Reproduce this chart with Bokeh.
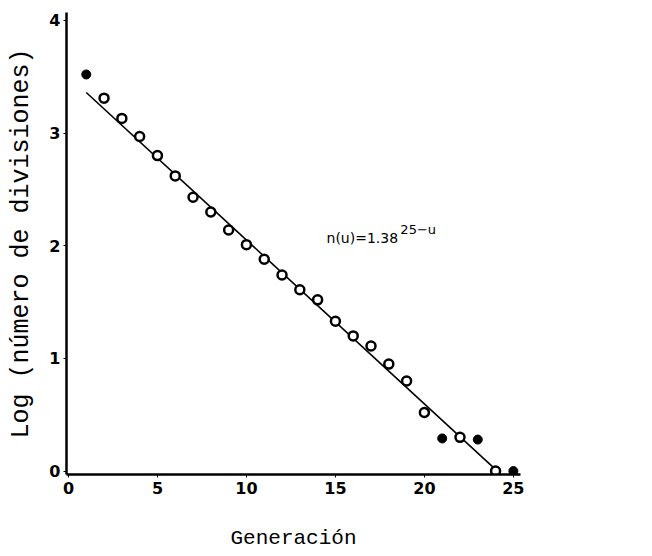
from bokeh.plotting import figure
from bokeh.models import Range1d, FixedTicker, Label
from bokeh.embed import file_html
from bokeh.resources import INLINE

generacion = [1, 2, 3, 4, 5, 6, 7, 8, 9, 10, 11, 12, 13, 14, 15, 16, 17, 18, 19, 20, 21, 22, 23, 24, 25]
log_div = [3.52, 3.31, 3.13, 2.97, 2.80, 2.62, 2.43, 2.30, 2.14, 2.01, 1.88, 1.74, 1.61, 1.52, 1.33,
           1.20, 1.11, 0.95, 0.80, 0.52, 0.29, 0.30, 0.28, 0.0, 0.0]
filled = [True, False, False, False, False, False, False, False, False, False, False, False, False,
          False, False, False, False, False, False, False, True, False, True, False, True]
fit_x = [1.0, 24.1]
fit_y = [3.36, 0.0]
x_ticks = [0, 5, 10, 15, 20, 25]
y_ticks = [0, 1, 2, 3, 4]

p = figure(width=652, height=556, output_backend="svg", toolbar_location=None,
           x_range=Range1d(-0.11, 25.4), y_range=Range1d(-0.03, 4.07),
           min_border_left=66, min_border_right=132, min_border_top=12, min_border_bottom=82)
p.outline_line_color = None
p.grid.visible = False
p.background_fill_color = "white"

p.line(fit_x, fit_y, line_color="black", line_width=1.6)

ox = [x for x, f in zip(generacion, filled) if not f]
oy = [y for y, f in zip(log_div, filled) if not f]
fx = [x for x, f in zip(generacion, filled) if f]
fy = [y for y, f in zip(log_div, filled) if f]
p.scatter(ox, oy, size=9, fill_color="white", line_color="black", line_width=2.5)
p.scatter(fx, fy, size=9, fill_color="black", line_color="black", line_width=1)

for ax in (p.xaxis[0], p.yaxis[0]):
    ax.axis_line_width = 2.5
    ax.axis_line_color = "black"
    ax.major_tick_in = 0
    ax.major_tick_out = 3
    ax.minor_tick_out = 0
    ax.minor_tick_in = 0
    ax.major_label_text_font = "DejaVu Sans"
    ax.major_label_text_font_style = "bold"
    ax.major_label_text_font_size = "16px"
    ax.major_label_text_color = "black"
    ax.axis_label_text_font = "Liberation Mono"
    ax.axis_label_text_font_style = "normal"
    ax.axis_label_text_color = "black"

p.xaxis.ticker = FixedTicker(ticks=x_ticks)
p.yaxis.ticker = FixedTicker(ticks=y_ticks)
p.xaxis.axis_label = "Generación"
p.yaxis.axis_label = "Log (número de divisiones)"
p.xaxis.axis_label_text_font_size = "21px"
p.yaxis.axis_label_text_font_size = "25px"
p.xaxis.axis_label_standoff = 30
p.yaxis.axis_label_standoff = 10
p.xaxis.major_label_standoff = 4
p.yaxis.major_label_standoff = 3

p.add_layout(Label(x=14.5, y=2.0, text="n(u)=1.38", text_font="DejaVu Sans",
                   text_font_size="14px", text_color="black"))
p.add_layout(Label(x=18.65, y=2.08, text="25−u", text_font="DejaVu Sans",
                   text_font_size="13px", text_color="black"))

open("out.html", "w").write(file_html(p, INLINE))
